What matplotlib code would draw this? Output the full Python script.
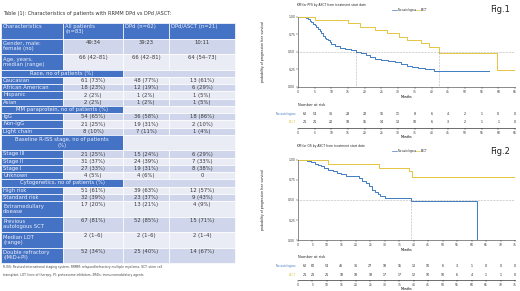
import matplotlib
matplotlib.use("Agg")
import matplotlib.pyplot as plt
from matplotlib.patches import Rectangle

plt.rcParams['font.family'] = ['DejaVu Sans']

# ---------------- table data ----------------
table_title = "Table (1): Characteristics of patients with RRMM DPd vs DPd /ASCT:"
header = ["Characteristics", "All patients\n(n=83)", "DPd (n=62)", "DPd/ASCT (n=21)"]
row_labels = ["Gender, male:\nfemale (no)", "Age, years,\nmedian (range)",
              "Race, no of patients (%)", "Caucasian", "African American", "Hispanic", "Asian",
              "MM paraprotein, no of patients (%)", "IgG", "Non-IgG", "Light chain",
              "Baseline R-ISS stage, no of patients\n(%)", "Stage III", "Stage II", "Stage I", "Unknown",
              "Cytogenetics, no of patients (%)", "High risk", "Standard risk",
              "Extramedullary\ndisease", "Previous\nautologous SCT", "Median LOT\n(range)",
              "Double refractory\n(IMiD+PI)"]
all_pts = ["49:34", "66 (42–81)", "", "61 (73%)", "18 (23%)", "2 (2%)", "2 (2%)", "",
           "54 (65%)", "21 (25%)", "8 (10%)", "", "21 (25%)", "31 (37%)", "27 (33%)", "4 (5%)", "",
           "51 (61%)", "32 (39%)", "17 (20%)", "67 (81%)", "2 (1–6)", "52 (34%)"]
dpd = ["39:23", "66 (42–81)", "", "48 (77%)", "12 (19%)", "1 (2%)", "1 (2%)", "",
       "36 (58%)", "19 (31%)", "7 (11%)", "", "15 (24%)", "24 (39%)", "19 (31%)", "4 (6%)", "",
       "39 (63%)", "23 (37%)", "13 (21%)", "52 (85%)", "2 (1–6)", "25 (40%)"]
dpd_asct = ["10:11", "64 (54–73)", "", "13 (61%)", "6 (29%)", "1 (5%)", "1 (5%)", "",
            "18 (86%)", "2 (10%)", "1 (4%)", "", "6 (29%)", "7 (33%)", "8 (38%)", "0", "",
            "12 (57%)", "9 (43%)", "4 (9%)", "15 (71%)", "2 (1–4)", "14 (67%)"]
section_rows = [2, 7, 11, 16]
footnote = ["R-ISS: Revised international staging system, RRMM: relapsed/refractory multiple myeloma, SCT: stem cell",
            "transplant, LOT: lines of therapy, PI: proteasome inhibitors, IMiDs: immunomodulatory agents"]

# ---------------- KM data ----------------
pfs_no_t = [0, 2.5, 3, 3.5, 4, 4.5, 5, 5.5, 6, 6.5, 7, 7.5, 8, 8.5, 9, 9.5, 10, 11, 12.5, 14, 16,
            17.47, 19, 20.5, 21.5, 23, 25, 27, 29, 31, 32.5, 34, 36, 38, 40.7, 57.2]
pfs_no_s = [1.0, 0.98, 0.96, 0.94, 0.92, 0.90, 0.88, 0.85, 0.82, 0.79, 0.76, 0.73, 0.70, 0.68, 0.66,
            0.64, 0.61, 0.58, 0.56, 0.54, 0.52, 0.50, 0.48, 0.45, 0.42, 0.40, 0.38, 0.37, 0.35, 0.33,
            0.30, 0.28, 0.27, 0.25, 0.23, 0.23]
pfs_asct_t = [0, 5, 14.9, 18.7, 23.2, 26.7, 30.2, 32.7, 36.7, 39.2, 42.17, 59.7, 65]
pfs_asct_s = [1.0, 0.952, 0.905, 0.857, 0.81, 0.762, 0.714, 0.667, 0.619, 0.571, 0.476, 0.238, 0.238]
pfs_ticks = list(range(0, 70, 5))
pfs_risk_no = [62, 54, 36, 28, 22, 16, 11, 8, 6, 4, 2, 1, 0, 0]
pfs_risk_asct = [21, 21, 20, 18, 15, 14, 13, 10, 6, 3, 2, 1, 1, 0]

os_no_t = [0, 3, 4.5, 6, 7, 8, 9, 10.5, 12, 13.5, 15, 16.5, 21, 22, 23.5, 24.5, 25.5, 26.5, 27.5,
           28.5, 30, 32, 39.13, 62]
os_no_s = [1.0, 0.985, 0.97, 0.955, 0.94, 0.92, 0.90, 0.88, 0.86, 0.84, 0.82, 0.80, 0.77, 0.74,
           0.71, 0.67, 0.63, 0.60, 0.57, 0.55, 0.53, 0.52, 0.49, 0.0]
os_asct_t = [0, 10.5, 28, 38.5, 39.5, 75]
os_asct_s = [1.0, 0.952, 0.905, 0.857, 0.79, 0.79]
os_ticks = list(range(0, 80, 5))
os_risk_no = [62, 60, 54, 46, 36, 27, 18, 15, 13, 10, 6, 3, 1, 0, 0, 0]
os_risk_asct = [21, 21, 21, 18, 18, 18, 17, 17, 12, 10, 10, 6, 4, 1, 1, 0]

BLUE = "#3f7cc0"
YEL = "#e5c542"
HDR = "#4472c4"
BAND = ["#cfd5ea", "#e9ebf5"]
TXT_L = "#eef1fa"

W, H = 520, 291
fig = plt.figure(figsize=(5.2, 2.91), dpi=100)


def px_axes(x0, y0, x1, y1):
    return fig.add_axes([x0 / W, 1 - y1 / H, (x1 - x0) / W, (y1 - y0) / H])


ov = px_axes(0, 0, W, H)
ov.set_xlim(0, W)
ov.set_ylim(H, 0)
ov.axis('off')

# ---------------- table ----------------
col_x = [1, 63, 123, 169, 235]
single_h, double_h = 7.25, 15.5
fs = 3.8
ov.text(3, 14, table_title, fontsize=3.6, color="#333333", va='center')

y = 23
for j in range(4):
    ov.add_patch(Rectangle((col_x[j], y), col_x[j + 1] - col_x[j], double_h, fc=HDR, ec='white', lw=0.5))
    ov.text(col_x[j] + 2, y + 1, header[j], fontsize=fs, color=TXT_L, va='top', ha='left',
            linespacing=1.0)
y += double_h

for i, lab in enumerate(row_labels):
    h = double_h if "\n" in lab else single_h
    band = BAND[i % 2]
    if i in section_rows:
        ov.add_patch(Rectangle((col_x[0], y), col_x[2] - col_x[0], h, fc=HDR, ec='white', lw=0.5))
        ov.add_patch(Rectangle((col_x[2], y), col_x[4] - col_x[2], h, fc=band, ec='white', lw=0.5))
        ov.text((col_x[0] + col_x[2]) / 2, y + h / 2, lab, fontsize=fs, color=TXT_L,
                ha='center', va='center', linespacing=1.0)
    else:
        ov.add_patch(Rectangle((col_x[0], y), col_x[1] - col_x[0], h, fc=HDR, ec='white', lw=0.5))
        ov.text(col_x[0] + 2, y + h / 2, lab, fontsize=fs, color=TXT_L, ha='left', va='center',
                linespacing=1.0)
        for j, vals in enumerate([all_pts, dpd, dpd_asct]):
            ov.add_patch(Rectangle((col_x[j + 1], y), col_x[j + 2] - col_x[j + 1], h,
                                   fc=band, ec='white', lw=0.5))
            ov.text((col_x[j + 1] + col_x[j + 2]) / 2, y + single_h / 2 + 0.3, vals[i],
                    fontsize=fs, color="#3a3a3a", ha='center', va='center')
    y += h

ov.text(3, 267, footnote[0], fontsize=2.2, color="#444444", va='center')
ov.text(3, 275, footnote[1], fontsize=2.2, color="#444444", va='center')

# ---------------- KM panels ----------------


def km_panel(top, bottom, xmax, ticks, no_t, no_s, as_t, as_s, med_no, med_as):
    ax = px_axes(298, top, 515, bottom)
    ax.step(no_t, no_s, where='post', color=BLUE, lw=0.7)
    ax.step(as_t, as_s, where='post', color=YEL, lw=0.7)
    ax.axhline(0.5, color="#777777", lw=0.4, ls=':')
    for m in [med_no, med_as]:
        if m is not None:
            ax.plot([m, m], [0, 0.5], color="#777777", lw=0.4, ls=':')
    ax.set_xlim(0, xmax)
    ax.set_ylim(0, 1)
    ax.set_xticks(ticks)
    ax.set_yticks([0, 0.25, 0.5, 0.75, 1.0])
    ax.set_yticklabels(["0.00", "0.25", "0.50", "0.75", "1.00"])
    ax.tick_params(labelsize=2.2, length=1.2, width=0.3, pad=0.8, colors="#333333")
    ax.set_xlabel("Months", fontsize=2.3, labelpad=0.6)
    for s in ['top', 'right']:
        ax.spines[s].set_visible(False)
    for s in ['left', 'bottom']:
        ax.spines[s].set_linewidth(0.4)
        ax.spines[s].set_color("#333333")
    return ax


def risk_panel(top, bottom, xmax, ticks, r_no, r_as, y_no, y_as, y_head):
    ax = px_axes(298, top, 515, bottom)
    ax.set_xlim(0, xmax)
    ax.set_ylim(0, 3)
    ax.set_xticks(ticks)
    ax.set_yticks([])
    ax.tick_params(labelsize=2.2, length=1.2, width=0.3, pad=0.6, colors="#333333")
    ax.set_xlabel("Months", fontsize=2.3, labelpad=0.3)
    for s in ['top', 'right', 'left']:
        ax.spines[s].set_visible(False)
    ax.spines['bottom'].set_linewidth(0.4)
    for k, (t, a, b) in enumerate(zip(ticks, r_no, r_as)):
        xt = t + xmax * 0.03 if k == 0 else t
        ax.text(xt, y_no, str(a), fontsize=2.3, ha='center', va='center', color="#222222")
        ax.text(xt, y_as, str(b), fontsize=2.3, ha='center', va='center', color="#222222")
    ax.text(0, y_head, "Number at risk", fontsize=2.6, ha='left', va='center', color="#222222")
    return ax


km_panel(16.5, 87, 65, pfs_ticks, pfs_no_t, pfs_no_s, pfs_asct_t, pfs_asct_s, 17.47, 42.17)
risk_panel(100, 128, 65, pfs_ticks, pfs_risk_no, pfs_risk_asct, 1.5, 0.64, 2.46)
km_panel(160, 240, 75, os_ticks, os_no_t, os_no_s, os_asct_t, os_asct_s, 39.13, None)
risk_panel(252, 280, 75, os_ticks, os_risk_no, os_risk_asct, 1.5, 0.5, 2.5)


def header_texts(ytitle, title, figlab, ylab_y, row_y):
    ov.text(297, ytitle, title, fontsize=2.2, color="#222222", va='center')
    ov.text(490, ytitle + 5, figlab, fontsize=6, color="#222222", va='center')
    leg_y = ytitle + 5
    ov.plot([392, 397], [leg_y, leg_y], color=BLUE, lw=0.5)
    ov.text(398, leg_y, "No autologous", fontsize=1.8, color="#222222", va='center')
    ov.plot([415, 420], [leg_y, leg_y], color=YEL, lw=0.5)
    ov.text(421, leg_y, "ASCT", fontsize=1.8, color="#222222", va='center')
    ov.text(263, ylab_y, "probability of progression free survival", fontsize=2.3, rotation=90,
            ha='center', va='center', color="#222222")
    ov.text(296, row_y[0], "No autologous", fontsize=2.0, color=BLUE, ha='right', va='center')
    ov.text(296, row_y[1], "ASCT", fontsize=2.0, color=YEL, ha='right', va='center')


header_texts(5, "KM for PFS by ASCT from treatment start date", "Fig.1", 52, (114, 122))
header_texts(146, "KM for OS by ASCT from treatment start date", "Fig.2", 200, (266, 275))

sfs = 2.4
# Fig.1 statistics
for x, yy, s, ha in [(423, 20, "No ASCT", 'right'), (438, 20, "17.47", 'left'),
                     (453, 20, "Months(", 'left'), (468, 20, "15.3 , 20.13", 'left'),
                     (492, 20, ")", 'left'),
                     (423, 26.5, "ASCT", 'right'), (438, 26.5, "42.17", 'left'),
                     (453, 26.5, "Months(", 'left'), (468, 26.5, "36.43", 'left'),
                     (492, 26.5, ")", 'left'),
                     (398, 33, "HR is", 'left'), (414, 33, "0.37", 'left'),
                     (430, 33, "95% CI (  0.18 , 0.77  )", 'left'),
                     (417, 45, "p = 0.0081", 'left')]:
    ov.text(x, yy, s, fontsize=sfs, ha=ha, va='center', color="#222222")

# Fig.2 statistics
for x, yy, s, ha in [(452, 169, "No ASCT", 'right'), (459, 169, "39.13", 'left'),
                     (470, 169, "Months(", 'left'), (483, 169, "35.03", 'left'),
                     (507, 169, ")", 'left'),
                     (452, 176, "ASCT", 'right'), (470, 176, "Months(", 'left'),
                     (507, 176, ")", 'left'),
                     (427, 182, "HR is", 'left'), (438, 182, "0.26", 'left'),
                     (448, 182, "95% CI (  0.08 , 0.79  )", 'left'),
                     (435, 192, "p = 0.0088", 'left')]:
    ov.text(x, yy, s, fontsize=sfs, ha=ha, va='center', color="#222222")

fig.savefig("out.png", dpi=100)
